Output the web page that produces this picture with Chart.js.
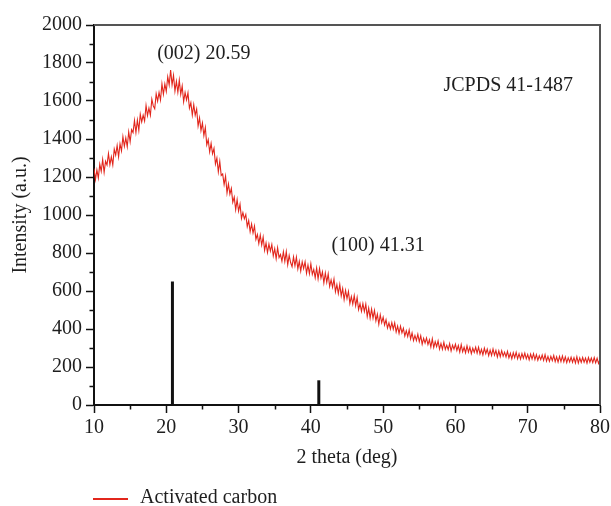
<!DOCTYPE html>
<html>
<head>
<meta charset="utf-8">
<script src="https://cdn.jsdelivr.net/npm/chart.js@4"></script>
<style>
html,body{margin:0;padding:0;background:#fff;}
#wrap{width:611px;height:506px;}
</style>
</head>
<body>
<div id="wrap"><canvas id="c" width="611" height="506"></canvas></div>
<script>
// ---- data ----
const xStart = 10;
const xStep = 0.2;
const intensity = [
1245,1187,1237,1194,1268, 1230,1292,1224,1283,1263, 1323,1265,1306,1264,1347,
1315,1366,1306,1375,1338, 1412,1362,1406,1359,1438, 1385,1449,1434,1498,1434,
1500,1445,1530,1490,1525, 1495,1577,1523,1563,1525, 1610,1574,1559,1638,1599,
1645,1605,1690,1635,1690, 1650,1728,1685,1763,1685, 1735,1652,1704,1646,1710,
1635,1679,1596,1645,1606, 1643,1562,1591,1526,1581, 1525,1558,1468,1511,1444,
1485,1418,1461,1369,1397, 1332,1377,1322,1351,1268, 1300,1227,1282,1208,1216,
1160,1205,1116,1164,1110, 1140,1067,1094,1028,1081,
1020,1057,982,1013,980, 1003,939,971,912,953, 905,942,872,898,850,
895,842,884,814,853, 802,847,810,845,785, 823,770,828,776,792,
757,807,755,807,738, 787,750,728,780,733, 778,716,756,705,754,
718,754,693,737,691, 744,688,714,670,721, 664,718,668,701,642,
695,646,690,624,658, 620,663,596,634,587, 635,574,613,555,603,
560,598,534,571,531, 576,522,566,502,534, 493,534,492,531,466,
510,457,505,457,498, 443,478,425,475,433,
462,421,449,405,432, 400,434,399,432,384, 415,377,415,380,404,
363,391,360,395,348, 380,339,366,339,373, 333,365,320,351,326,
353,318,343,305,348, 302,333,307,337,294, 324,293,330,293,315,
291,323,284,315,294, 320,287,313,279,318, 280,304,275,311,278,
304,270,299,277,304, 273,304,268,293,264, 299,270,294,260,289,
261,295,262,287,253, 285,254,286,257,278, 253,282,248,272,243,
275,249,277,243,270, 242,271,246,273,243, 266,238,268,242,270,
239,265,235,259,239, 263,235,265,231,256, 230,256,234,261,228,
254,226,256,228,258, 227,253,223,249,227, 252,225,249,221,254,
221,248,224,250,225, 247,220,250,225,247, 223,250,222,246,219,
240
];
const stickPos = [20.85, 41.1];
const stickHeights = [650, 130];
const xTicks = [10, 20, 30, 40, 50, 60, 70, 80];
const yTicks = [0, 200, 400, 600, 800, 1000, 1200, 1400, 1600, 1800, 2000];
const seriesName = 'Activated carbon';
const xTitle = '2 theta (deg)';
const yTitle = 'Intensity (a.u.)';
const notes = [
  {text: '(002) 20.59', x: 25.2, y: 1850},
  {text: '(100) 41.31', x: 49.3, y: 836},
  {text: 'JCPDS 41-1487', x: 67.3, y: 1679}
];

// ---- build ----
const curve = intensity.map((v, i) => ({x: +(xStart + i * xStep).toFixed(2), y: v}));
const stickSets = stickPos.map((p, i) => ({
  label: 'JCPDS',
  data: [{x: p, y: 0}, {x: p, y: stickHeights[i]}],
  borderColor: '#111',
  borderWidth: 3,
  pointRadius: 0,
  borderCapStyle: 'butt'
}));

const FONT = '"Liberation Serif", "DejaVu Serif", serif';
const TXT = '#1e1e1e';

const extras = {
  id: 'extras',
  afterDraw(chart) {
    const ctx = chart.ctx;
    const xs = chart.scales.x, ys = chart.scales.y;
    const a = chart.chartArea;
    ctx.save();
    // top and right frame
    ctx.strokeStyle = '#555';
    ctx.lineWidth = 2;
    ctx.beginPath();
    ctx.moveTo(a.left, a.top); ctx.lineTo(a.right, a.top); ctx.lineTo(a.right, a.bottom);
    ctx.stroke();
    // minor ticks
    ctx.strokeStyle = '#111';
    ctx.lineWidth = 1.5;
    ctx.beginPath();
    for (let i = 0; i < xTicks.length - 1; i++) {
      const px = Math.round(xs.getPixelForValue((xTicks[i] + xTicks[i + 1]) / 2)) + 0.5;
      ctx.moveTo(px, a.bottom); ctx.lineTo(px, a.bottom + 4.5);
    }
    for (let i = 0; i < yTicks.length - 1; i++) {
      const py = Math.round(ys.getPixelForValue((yTicks[i] + yTicks[i + 1]) / 2)) + 0.5;
      ctx.moveTo(a.left, py); ctx.lineTo(a.left - 4.5, py);
    }
    ctx.stroke();
    // annotations
    ctx.fillStyle = TXT;
    ctx.font = '20px ' + FONT;
    ctx.textAlign = 'center';
    ctx.textBaseline = 'middle';
    notes.forEach(n => ctx.fillText(n.text, xs.getPixelForValue(n.x), ys.getPixelForValue(n.y)));
    // axis titles
    ctx.fillText(xTitle, (a.left + a.right) / 2, 458);
    ctx.save();
    ctx.translate(21, (a.top + a.bottom) / 2);
    ctx.rotate(-Math.PI / 2);
    ctx.fillText(yTitle, 0, 0);
    ctx.restore();
    // legend
    const ds = chart.data.datasets[0];
    ctx.strokeStyle = ds.borderColor;
    ctx.lineWidth = 2;
    ctx.beginPath();
    ctx.moveTo(93, 499); ctx.lineTo(128, 499);
    ctx.stroke();
    ctx.textAlign = 'left';
    ctx.fillText(ds.label, 140, 498);
    ctx.restore();
  }
};

new Chart(document.getElementById('c'), {
  type: 'line',
  data: {
    datasets: [{
      label: seriesName,
      data: curve,
      borderColor: 'rgb(226,38,28)',
      borderWidth: 1.1,
      pointRadius: 0,
      tension: 0
    }, ...stickSets]
  },
  options: {
    responsive: false,
    animation: false,
    events: [],
    layout: {padding: {top: 25, right: 11, left: 0, bottom: 0}},
    plugins: {legend: {display: false}, tooltip: {enabled: false}},
    scales: {
      x: {
        type: 'linear', min: 10, max: 80,
        afterBuildTicks(s) { s.ticks = xTicks.map(v => ({value: v})); },
        afterFit(s) { s.height = 101; s.paddingRight = 0; },
        grid: {display: true, drawOnChartArea: false, tickLength: 8, tickWidth: 1.5, tickColor: '#111'},
        border: {color: '#111', width: 2},
        ticks: {color: TXT, font: {family: FONT, size: 20}, padding: 3, maxRotation: 0,
                callback: v => String(v)}
      },
      y: {
        type: 'linear', min: 0, max: 2000,
        afterBuildTicks(s) { s.ticks = yTicks.map(v => ({value: v})); },
        afterFit(s) { s.width = 94; },
        grid: {display: true, drawOnChartArea: false, tickLength: 8, tickWidth: 1.5, tickColor: '#111'},
        border: {color: '#111', width: 2},
        ticks: {color: TXT, font: {family: FONT, size: 20}, padding: 4,
                callback: v => String(v)}
      }
    }
  },
  plugins: [extras]
});
</script>
</body>
</html>
